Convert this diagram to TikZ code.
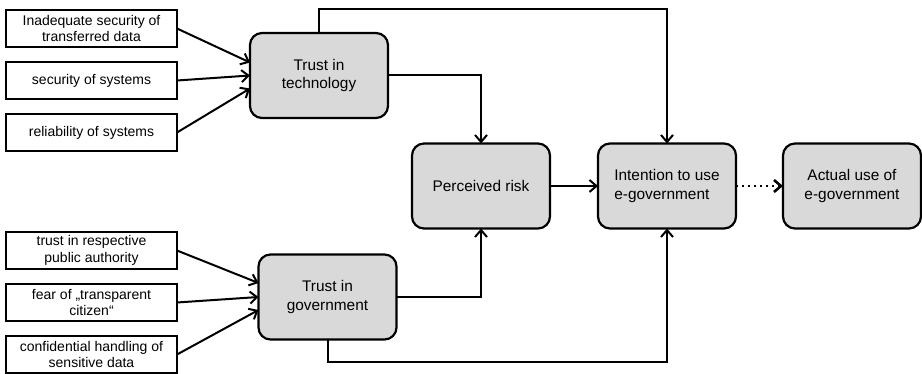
\documentclass[tikz,border=0pt]{standalone}
\usepackage{fontspec}
\setmainfont{Liberation Sans}
\usetikzlibrary{positioning}
\usetikzlibrary{arrows.meta}

\begin{document}
\begin{tikzpicture}[node distance=7.5pt,
  factor/.style={draw, rectangle, line width=1.1pt, minimum width=85.5pt, minimum height=18.5pt,
    inner sep=0.5pt, outer sep=0pt, align=center, font=\fontsize{7}{8.3}\selectfont},
  construct/.style={draw, rectangle, rounded corners=6pt, line width=1.1pt, fill=black!15,
    minimum width=69pt, minimum height=42.5pt, outer sep=0pt, align=center,
    font=\fontsize{7.7}{9.4}\selectfont},
  link/.style={line width=1pt, -{Straight Barb[length=3.5pt,width=6pt]}}]
\useasboundingbox (0,0) rectangle (461pt,-187pt);
% factors of trust in technology
\node[factor](data) at (45.75pt,-14.25pt){Inadequate security of\\transferred data};
\node[factor](sec)[below=of data]{security of systems};
\node[factor](rel)[below=of sec]{reliability of systems};
% factors of trust in government
\node[factor](auth)[below=40.5pt of rel]{trust in respective\\public authority};
\node[factor](fear)[below=of auth]{fear of „transparent\\citizen“};
\node[factor](conf)[below=of fear]{confidential handling of\\sensitive data};
% constructs
\node[construct](tech) at (159.5pt,-37.75pt){Trust in\\technology};
\node[construct](gov) at (163.75pt,-148.5pt){Trust in\\government};
\node[construct](risk) at (240.5pt,-93pt){Perceived risk};
\node[construct, align=left](intent)[right=24pt of risk]{Intention to use\\e-government};
\node[construct](use)[right=23.5pt of intent]{Actual use of\\e-government};
\draw[link](data.east)--([yshift=6.5pt]tech.west);
\draw[link](sec.east)--(tech.west);
\draw[link](rel.east)--([yshift=-6.5pt]tech.west);
\draw[link](auth.east)--([yshift=7pt]gov.west);
\draw[link](fear.east)--(gov.west);
\draw[link](conf.east)--([yshift=-6.5pt]gov.west);
\draw[link](tech.east)-|(risk.north);
\draw[link](gov.east)-|(risk.south);
\draw[link](tech.north)--++(0,12pt)-|(intent.north);
\draw[link](gov.south)--++(0,-11pt)-|(intent.south);
\draw[link](risk)--(intent);
\draw[link, dotted, line width=1.3pt](intent)--(use);
\end{tikzpicture}
\end{document}
